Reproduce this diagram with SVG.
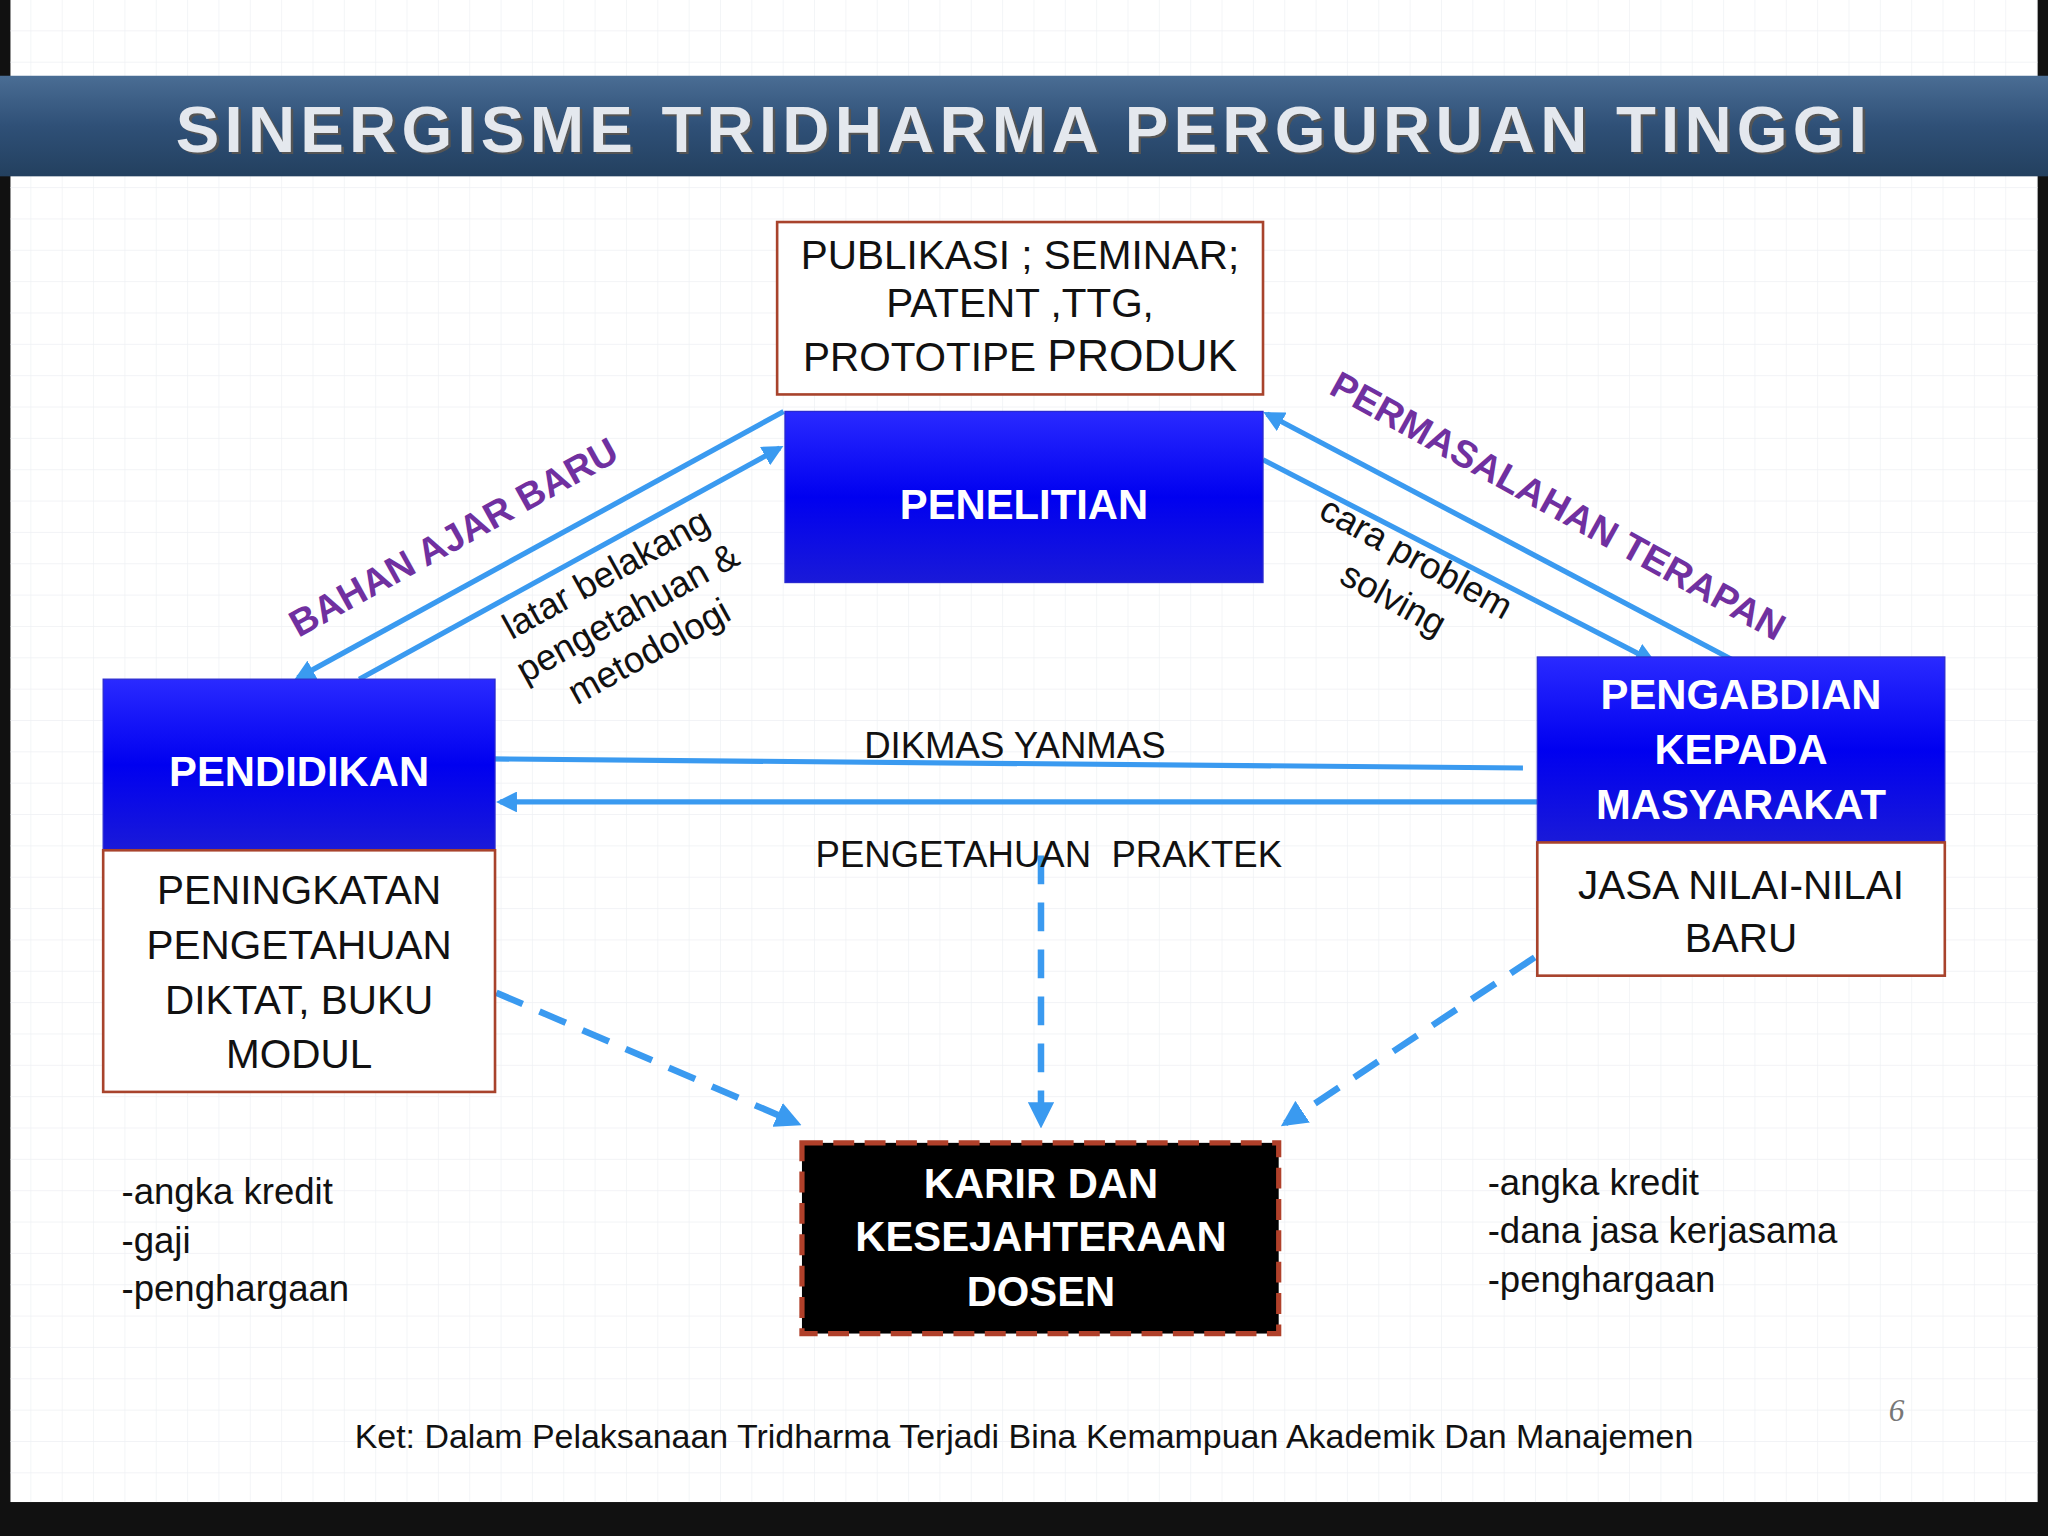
<svg xmlns="http://www.w3.org/2000/svg" width="2048" height="1536" viewBox="0 0 2048 1536">
<defs>
<linearGradient id="tb" x1="0" y1="0" x2="0" y2="1"><stop offset="0" stop-color="#4a6d94"/><stop offset="0.5" stop-color="#2f5077"/><stop offset="1" stop-color="#23405f"/></linearGradient>
<linearGradient id="bl" x1="0" y1="0" x2="0" y2="1"><stop offset="0" stop-color="#2a2aff"/><stop offset="0.5" stop-color="#0000f0"/><stop offset="1" stop-color="#1a1ad8"/></linearGradient>
<pattern id="grid" width="24" height="24" patternUnits="userSpaceOnUse"><path d="M24 0V24H0" fill="none" stroke="#eef0f4" stroke-width="1"/></pattern>
<marker id="ah" viewBox="0 0 10 10" refX="8" refY="5" markerWidth="4" markerHeight="4" orient="auto-start-reverse"><path d="M0 0L10 5L0 10z" fill="#3a9af0"/></marker>
<style>
.t{font-family:"Liberation Sans",Arial,sans-serif}
.ln{stroke:#3a9af0;stroke-width:4;fill:none}
.ds{stroke:#3a9af0;stroke-width:5;fill:none;stroke-dasharray:22 14}
.wb{fill:#fff;stroke:#a8432c;stroke-width:2}
.bx{fill:url(#bl);stroke:#2a2ad0;stroke-width:1}
.wt{fill:#fff;font-weight:bold;font-size:32px;text-anchor:middle}
.bk{fill:#111;font-size:31px;text-anchor:middle}
.pu{fill:#7030a0;font-weight:bold;font-size:29px;text-anchor:middle}
.lb{fill:#111;font-size:28px}
</style>
</defs>
<g transform="scale(1.30612)">
<rect width="1568" height="1176" fill="#111"/>
<rect x="8" y="0" width="1552" height="1150" fill="#fff"/>
<rect x="8" y="0" width="1552" height="1150" fill="url(#grid)"/>
<g id="title"><rect x="0" y="58" width="1568" height="77" fill="url(#tb)"/>
<text class="t" x="786" y="118" font-size="50" font-weight="bold" fill="#555" text-anchor="middle" letter-spacing="4">SINERGISME TRIDHARMA PERGURUAN TINGGI</text>
<text class="t" x="784" y="116" font-size="50" font-weight="bold" fill="#e4e8ee" text-anchor="middle" letter-spacing="4">SINERGISME TRIDHARMA PERGURUAN TINGGI</text></g>
<g id="connectors">
<line class="ln" x1="600" y1="315" x2="228" y2="519" marker-end="url(#ah)"/>
<line class="ln" x1="275" y1="520" x2="597" y2="343" marker-end="url(#ah)"/>
<line class="ln" x1="967" y1="352" x2="1265" y2="506" marker-end="url(#ah)"/>
<line class="ln" x1="1330" y1="507" x2="970" y2="317" marker-end="url(#ah)"/>
<line class="ln" x1="376" y1="581" x2="1166" y2="588"/>
<line class="ln" x1="1177" y1="614" x2="383" y2="614" marker-end="url(#ah)"/>
<line class="ds" x1="380" y1="760" x2="610" y2="860" marker-end="url(#ah)"/>
<line class="ds" x1="797" y1="655" x2="797" y2="860" marker-end="url(#ah)"/>
<line class="ds" x1="1175" y1="733" x2="984" y2="860" marker-end="url(#ah)"/>
</g>
<g id="publikasi"><rect class="wb" x="595" y="170" width="372" height="132"/>
<text class="t bk" x="781" y="206">PUBLIKASI ; SEMINAR;</text>
<text class="t bk" x="781" y="243">PATENT ,TTG,</text>
<text class="t bk" x="781" y="284">PROTOTIPE <tspan font-size="34">PRODUK</tspan></text></g>
<g id="penelitian"><rect class="bx" x="601" y="315" width="366" height="131"/><text class="t wt" x="784" y="397">PENELITIAN</text></g>
<g id="pendidikan"><rect class="bx" x="79" y="520" width="300" height="131"/><text class="t wt" x="229" y="602">PENDIDIKAN</text></g>
<g id="pengabdian"><rect class="bx" x="1177" y="503" width="312" height="142"/>
<text class="t wt" x="1333" y="543">PENGABDIAN</text><text class="t wt" x="1333" y="585">KEPADA</text><text class="t wt" x="1333" y="627">MASYARAKAT</text></g>
<g id="peningkatan"><rect class="wb" x="79" y="651" width="300" height="185"/>
<text class="t bk" x="229" y="692" font-size="32">PENINGKATAN</text><text class="t bk" x="229" y="734">PENGETAHUAN</text><text class="t bk" x="229" y="776">DIKTAT, BUKU</text><text class="t bk" x="229" y="818">MODUL</text></g>
<g id="jasa"><rect class="wb" x="1177" y="645" width="312" height="102"/>
<text class="t bk" x="1333" y="688">JASA NILAI-NILAI</text><text class="t bk" x="1333" y="729">BARU</text></g>
<g id="karir"><rect x="614" y="875" width="365" height="146" fill="#000" stroke="#b0402a" stroke-width="4" stroke-dasharray="16 8"/>
<text class="t wt" x="797" y="917" font-weight="normal">KARIR DAN</text><text class="t wt" x="797" y="958" font-weight="normal">KESEJAHTERAAN</text><text class="t wt" x="797" y="1000" font-weight="normal">DOSEN</text></g>
<g id="labels">
<text class="t pu" transform="translate(352,420) rotate(-29)">BAHAN AJAR BARU</text>
<g class="t lb" text-anchor="middle" transform="translate(482,472) rotate(-29)"><text y="-28">latar belakang</text><text y="6">pengetahuan &amp;</text><text y="40">metodologi</text></g>
<text class="t pu" transform="translate(1188,396) rotate(29)">PERMASALAHAN TERAPAN</text>
<g class="t lb" text-anchor="middle" transform="translate(1075,444) rotate(29)"><text y="-10">cara  problem</text><text y="26">solving</text></g>
<text class="t lb" x="777" y="580" text-anchor="middle">DIKMAS YANMAS</text>
<text class="t lb" x="803" y="664" text-anchor="middle" xml:space="preserve">PENGETAHUAN  PRAKTEK</text>
<text class="t lb" x="93" y="922">-angka kredit</text><text class="t lb" x="93" y="959">-gaji</text><text class="t lb" x="93" y="996">-penghargaan</text>
<text class="t lb" x="1139" y="915">-angka kredit</text><text class="t lb" x="1139" y="952">-dana jasa kerjasama</text><text class="t lb" x="1139" y="989">-penghargaan</text>
<text class="t" x="784" y="1109" font-size="26" fill="#111" text-anchor="middle">Ket: Dalam Pelaksanaan Tridharma Terjadi Bina Kemampuan Akademik Dan Manajemen</text>
<text x="1452" y="1088" font-family="Liberation Serif,serif" font-style="italic" font-size="24" fill="#777" text-anchor="middle">6</text>
</g>
</g>
</svg>
